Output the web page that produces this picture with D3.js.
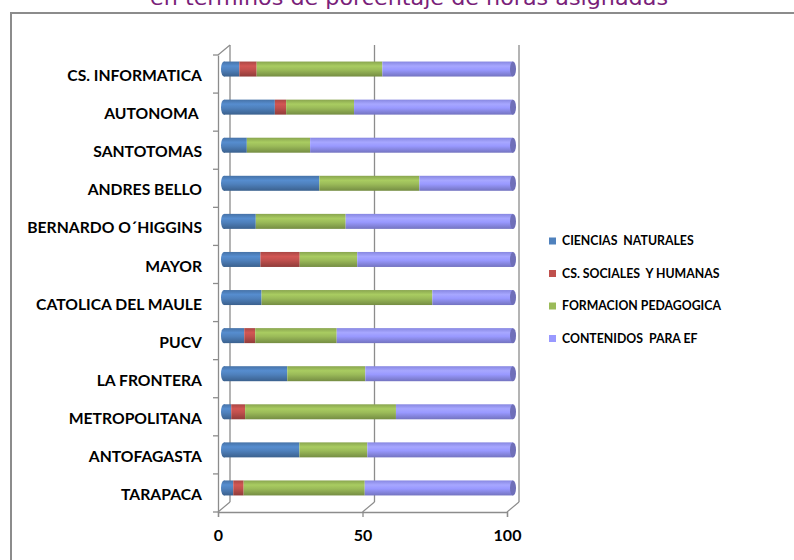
<!DOCTYPE html>
<html><head><meta charset="utf-8">
<script src="https://cdn.jsdelivr.net/npm/d3@7"></script>
<style>body{margin:0;background:#fff}svg{display:block}</style>
</head><body>
<script>
const categories = ["CS. INFORMATICA","AUTONOMA ","SANTOTOMAS","ANDRES BELLO","BERNARDO O´HIGGINS","MAYOR","CATOLICA DEL MAULE","PUCV","LA FRONTERA","METROPOLITANA","ANTOFAGASTA","TARAPACA"];
const seriesNames = ["CIENCIAS  NATURALES","CS. SOCIALES  Y HUMANAS","FORMACION PEDAGOGICA","CONTENIDOS  PARA EF"];
const cienciasNaturales = [5.3,17.6,7.9,33.0,11.0,12.6,13.0,7.0,21.9,2.5,26.1,3.2];
const csSociales       = [6.0,3.9,0,0,0,13.6,0,3.8,0,4.8,0,3.6];
const formacionPed     = [43.5,23.5,21.9,34.6,31.1,19.9,59.1,28.2,27.0,52.2,23.5,41.9];
const contenidosEF     = [45.2,55.0,70.2,32.4,57.9,53.9,27.9,61.0,51.1,40.5,50.4,51.3];
const xTicks = [0,50,100];
const title = "en términos de porcentaje de horas asignadas";

const colors = ["#4F81BD","#C0504D","#9BBB59","#9999FF"];
const W=794,H=560;
const svg=d3.select("body").append("svg").attr("width",W).attr("height",H);

// chart border
svg.append("rect").attr("x",11).attr("y",13).attr("width",W+20).attr("height",H+20)
  .attr("fill","#fff").attr("stroke","#8c8c8c").attr("stroke-width",2);

// title (partly cut off at top, as in the reference)
svg.append("text").attr("x",409).attr("y",5).attr("text-anchor","middle")
  .attr("font-family","DejaVu Sans").attr("font-size",21).attr("fill","#7a1f7a")
  .attr("textLength",518).attr("lengthAdjust","spacingAndGlyphs").text(title);

// 3D geometry
const dx=12, dy=-10;
const xFront=d3.scaleLinear().domain([0,100]).range([218,507]);
const xBar=d3.scaleLinear().domain([0,100]).range([224,513]);
const yFront=d3.scaleBand().domain(categories).range([55,512]).paddingInner(0).paddingOuter(0);
const floorY=512, topY=55;
const grid="#8c8c8c";

svg.append("g").selectAll("line").data(xTicks).join("line")
  .attr("x1",d=>xFront(d)+dx).attr("x2",d=>xFront(d)+dx)
  .attr("y1",topY+dy).attr("y2",floorY+dy)
  .attr("stroke",grid).attr("stroke-width",1.3);
svg.append("g").selectAll("line").data(xTicks).join("line")
  .attr("x1",d=>xFront(d)).attr("x2",d=>xFront(d)+dx)
  .attr("y1",floorY).attr("y2",floorY+dy)
  .attr("stroke",grid).attr("stroke-width",1.2);
svg.append("line").attr("x1",218).attr("y1",topY).attr("x2",218+dx).attr("y2",topY+dy)
  .attr("stroke",grid).attr("stroke-width",1.2);

const xAxis=d3.axisBottom(xFront).tickValues(xTicks).tickSize(5).tickPadding(13);
const gx=svg.append("g").attr("transform",`translate(0,${floorY})`).call(xAxis);
gx.select(".domain").attr("stroke",grid).attr("stroke-width",1.3);
gx.selectAll(".tick line").attr("stroke",grid).attr("stroke-width",1.3);
gx.selectAll(".tick text").attr("font-family","Lato").attr("font-weight","bold")
  .attr("font-size",16).attr("fill","#000");

const yAxis=d3.axisLeft(yFront).tickSize(0).tickPadding(16);
const gy=svg.append("g").attr("transform","translate(218,0)").call(yAxis);
gy.select(".domain").attr("stroke",grid).attr("stroke-width",1.3);
gy.selectAll(".tick text").attr("font-family","Lato").attr("font-weight","bold")
  .attr("font-size",15.7).attr("fill","#000").attr("dy","0.45em").style("white-space","pre");
const bounds=categories.map(c=>yFront(c)).concat([floorY]);
svg.append("g").selectAll("line").data(bounds).join("line")
  .attr("x1",213).attr("x2",218).attr("y1",d=>d).attr("y2",d=>d)
  .attr("stroke",grid).attr("stroke-width",1.3);

const defs=svg.append("defs");
colors.forEach((c,i)=>{
  const g=defs.append("linearGradient").attr("id","g"+i).attr("x1",0).attr("x2",0).attr("y1",0).attr("y2",1);
  const base=d3.color(c);
  g.append("stop").attr("offset","0%").attr("stop-color",base.darker(0.35));
  g.append("stop").attr("offset","30%").attr("stop-color",base.brighter(0.25));
  g.append("stop").attr("offset","55%").attr("stop-color",base);
  g.append("stop").attr("offset","100%").attr("stop-color",base.darker(0.8));
});

const data=categories.map((c,i)=>({cat:c,vals:[cienciasNaturales[i],csSociales[i],formacionPed[i],contenidosEF[i]]}));
const barH=15, barOff=-5;
const bars=svg.append("g");
data.forEach(d=>{
  const yc=yFront(d.cat)+yFront.bandwidth()/2+barOff;
  const y0=yc-barH/2;
  let acc=0;
  const segs=d.vals.map((v,k)=>{const s={k,a:acc,b:acc+v};acc+=v;return s;}).filter(s=>s.b>s.a);
  const g=bars.append("g");
  const first=segs[0];
  g.append("ellipse").attr("cx",xBar(0)).attr("cy",yc).attr("rx",3).attr("ry",barH/2)
    .attr("fill",`url(#g${first.k})`);
  g.selectAll("rect").data(segs).join("rect")
    .attr("x",s=>xBar(s.a)).attr("width",s=>xBar(s.b)-xBar(s.a))
    .attr("y",y0).attr("height",barH).attr("fill",s=>`url(#g${s.k})`);
  const last=segs[segs.length-1];
  g.append("ellipse").attr("cx",xBar(last.b)).attr("cy",yc).attr("rx",3).attr("ry",barH/2)
    .attr("fill",d3.color(colors[last.k]).darker(0.9));
});

const leg=svg.append("g");
seriesNames.forEach((n,i)=>{
  const yy=241+i*32.5;
  leg.append("rect").attr("x",549).attr("y",yy-3.5).attr("width",7).attr("height",7).attr("fill",colors[i]);
  leg.append("text").attr("x",562).attr("y",yy).attr("dy","0.36em")
    .attr("font-family","Lato").attr("font-weight","bold").attr("font-size",12.3)
    .style("white-space","pre").text(n);
});
</script>
</body></html>
